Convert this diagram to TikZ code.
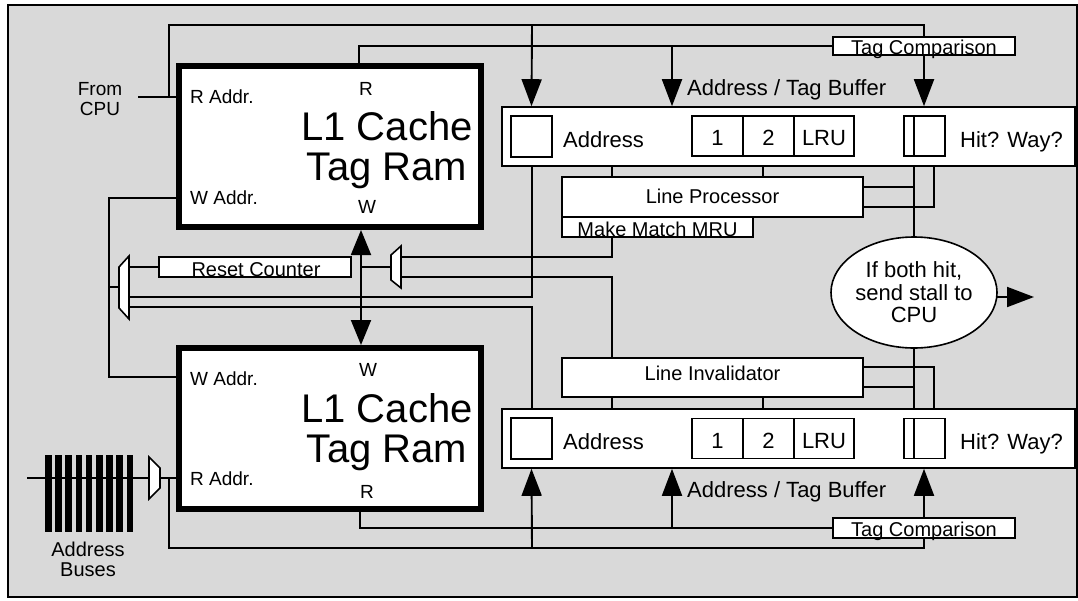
\documentclass[tikz,border=0pt]{standalone}
\usepackage{fontspec}
\setmainfont{Liberation Sans}
\usetikzlibrary{arrows.meta,shapes.geometric}
\definecolor{panel}{RGB}{217,217,217}
\pgfdeclarelayer{back}
\pgfdeclarelayer{wires}
\pgfsetlayers{back,wires,main}
\begin{document}
\begin{tikzpicture}[x=1pt,y=-1pt,
  wire/.style={line width=1.6pt},
  arr/.style={line width=1.9pt,-{Triangle[length=27pt,width=20pt]}},
  dbl/.style={line width=1.9pt,{Triangle[length=25pt,width=20pt]}-{Triangle[length=25pt,width=20pt]}},
  box/.style={draw,fill=white,line width=1.6pt,inner sep=0pt},
  ram/.style={draw,fill=white,line width=6pt,inner sep=0pt,minimum width=302pt,minimum height=161pt},
  lbl/.style={inner sep=0pt,font=\fontsize{19}{20}\selectfont},
  mid/.style={inner sep=0pt,font=\fontsize{20}{20}\selectfont},
  big/.style={inner sep=0pt,font=\fontsize{22}{22.5}\selectfont},
  title/.style={inner sep=0pt,align=center,font=\fontsize{40}{40}\selectfont},
  mux/.style={draw,fill=white,line width=1.6pt,line join=miter}
]
\useasboundingbox (0,0) rectangle (1078,600);
\begin{pgfonlayer}{back}
\draw[line width=1.5pt,fill=panel] (8,5) rectangle (1077,597);
\end{pgfonlayer}

% ---------- tag RAMs ----------
\node[ram] (ramA) at (330,146.5) {};
\node[ram] (ramB) at (330,428.5) {};
\node[lbl,anchor=west] (rA1) at (190,97) {R Addr.};
\node[lbl,anchor=west] (wA1) at (190,198) {W Addr.};
\node[lbl] (rp1) at (366,89) {R};
\node[lbl] (wp1) at (367,207) {W};
\node[title] (t1) at (387,150) {L1 Cache\\Tag Ram};
\node[lbl] (wp2) at (368,370) {W};
\node[lbl,anchor=west] (wA2) at (190,379) {W Addr.};
\node[lbl,anchor=west] (rA2) at (190,479) {R Addr.};
\node[lbl] (rp2) at (367,492) {R};
\node[title] (t2) at (387,432) {L1 Cache\\Tag Ram};

% ---------- address / tag buffers ----------
\node[box,minimum width=573pt,minimum height=59pt] (bufA) at (788.5,136.5) {};
\node[box,minimum width=41pt,minimum height=41pt] (sqA) at (531.5,136.5) {};
\node[big,anchor=base west] (adA) at (563,147) {Address};
\node[box,minimum width=51pt,minimum height=40pt] (oneA) at (717.5,136) {};
\node[box,minimum width=51pt,minimum height=40pt] (twoA) at (768.5,136) {};
\node[box,minimum width=60pt,minimum height=40pt] (lruA) at (824,136) {};
\node[big,anchor=base] (oneAT) at (717.5,145.5) {1};
\node[big,anchor=base] (twoAT) at (768.5,145.5) {2};
\node[big,anchor=base] (lruAT) at (824,145.5) {LRU};
\node[box,minimum width=10pt,minimum height=40pt] (hA) at (909,136) {};
\node[box,minimum width=31pt,minimum height=40pt] (wyA) at (929.5,136) {};
\node[big,anchor=base west] (hwA) at (960,147) {Hit? Way?};
\node[big,anchor=base west] (atA) at (687,95) {Address / Tag Buffer};

\node[box,minimum width=573pt,minimum height=59pt] (bufB) at (788.5,438.5) {};
\node[box,minimum width=41pt,minimum height=41pt] (sqB) at (531.5,438.5) {};
\node[big,anchor=base west] (adB) at (563,449) {Address};
\node[box,minimum width=51pt,minimum height=40pt] (oneB) at (717.5,438.5) {};
\node[box,minimum width=51pt,minimum height=40pt] (twoB) at (768.5,438.5) {};
\node[box,minimum width=60pt,minimum height=40pt] (lruB) at (824,438.5) {};
\node[big,anchor=base] (oneBT) at (717.5,448) {1};
\node[big,anchor=base] (twoBT) at (768.5,448) {2};
\node[big,anchor=base] (lruBT) at (824,448) {LRU};
\node[box,minimum width=10pt,minimum height=40pt] (hB) at (909,438.5) {};
\node[box,minimum width=31pt,minimum height=40pt] (wyB) at (929.5,438.5) {};
\node[big,anchor=base west] (hwB) at (960,449) {Hit? Way?};
\node[big,anchor=base west] (atB) at (687,497) {Address / Tag Buffer};

% ---------- tag comparison ----------
\node[box,minimum width=182pt,minimum height=18pt] (tcA) at (924,46) {};
\node[mid,anchor=base] (tcAT) at (924,54) {Tag Comparison};
\node[box,minimum width=182pt,minimum height=20pt] (tcB) at (924,528) {};
\node[mid,anchor=base] (tcBT) at (924,536) {Tag Comparison};

% ---------- processors ----------
\node[box,minimum width=301pt,minimum height=40pt] (lp) at (712.5,197) {};
\node[mid,anchor=base] (lpT) at (712.5,203) {Line Processor};
\node[box,minimum width=191pt,minimum height=20pt] (mru) at (657.5,227) {};
\node[mid,anchor=base] (mruT) at (657.5,236) {Make Match MRU};
\node[box,minimum width=301pt,minimum height=39pt] (li) at (712.5,377.5) {};
\node[mid,anchor=base] (liT) at (712.5,380) {Line Invalidator};
\node[box,minimum width=192pt,minimum height=20pt] (rc) at (255,267) {};
\node[mid,anchor=base] (rcT) at (256,276) {Reset Counter};

\node[draw,fill=white,line width=1.6pt,ellipse,minimum width=142pt,minimum height=111pt,
      inner sep=0pt,align=center,font=\fontsize{22}{22.5}\selectfont] (ell) at (914,292.5)
      {If both hit,\\send stall to\\CPU};

% ---------- outside labels ----------
\node[lbl,align=center] (cpu) at (100,99) {From\\CPU};
\node[align=center,inner sep=0pt,font=\fontsize{20}{20}\selectfont] (bus) at (88,559.5) {Address\\Buses};

% ---------- multiplexers ----------
\draw[mux] (129,256) -- (129,319) -- (119,308) -- (119,267) -- cycle;
\draw[mux] (401,246) -- (401,288) -- (391,280) -- (391,255) -- cycle;
\draw[mux] (149,457) -- (149,499) -- (160,488) -- (160,468) -- cycle;

% ---------- bus bars ----------
\foreach \i in {0,...,8} \fill (45+\i*10.2,455) rectangle +(6.5,77);

% ---------- wires ----------
\begin{pgfonlayer}{wires}
\coordinate (cpuJ) at (169,97);
\coordinate (busJ) at (169,478);
\coordinate (eo) at (984,297);
\draw[wire] (138,97) -- (ramA.west |- cpuJ);
\draw[arr] (cpuJ) -- (169,25) -| (tcA.center |- bufA.north);
\draw[arr] (532,25) -- (sqA.center |- bufA.north);
\draw[wire] (359,63) -- (359,46) -- (tcA.west);
\draw[arr] (672,46) -- (672,106.2);
\draw[wire] (ramA.west |- wA1) -- (109,198) -- (109,377) -- (ramB.west |- 176,377);
\draw[wire] (119,287) -- (109,287);
\draw[wire] (rc.west) -- (129,267);
\draw[wire] (129,297) -- (532,297) -- (532,166);
\draw[wire] (129,307) -- (532,307) -- (532,409);
\draw[dbl] (361,230) -- (361,345);
\draw[wire] (391,267) -- (361,267);
\draw[wire] (401,257) -- (612,257) -- (612,237);
\draw[wire] (401,277) -- (612,277) -- (612,358);
\draw[wire] (612,166) -- (612,177);
\draw[wire] (763,166) -- (763,177);
\draw[wire] (914,166) -- (ell.north);
\draw[wire] (934,166) -- (934,207) -- (863,207);
\draw[wire] (914,187) -- (863,187);
\draw[arr] (eo) -- (1034,297);
\draw[wire] (ell.south) -- (914,409);
\draw[wire] (863,367) -- (934,367) -- (934,409);
\draw[wire] (863,387) -- (914,387);
\draw[wire] (612,397) -- (612,409);
\draw[wire] (763,397) -- (763,409);
\draw[wire] (360,512) -- (360,528) -- (tcB.west);
\draw[arr] (672,528) -- (672,468.8);
\draw[wire] (160,478) -- (176,478);
\draw[arr] (busJ) -- (169,548) -| (tcB.center |- bufB.south);
\draw[arr] (532,548) -- (sqB.center |- bufB.south);
\draw[wire] (27,478) -- (149,478);
\end{pgfonlayer}
\end{tikzpicture}
\end{document}
